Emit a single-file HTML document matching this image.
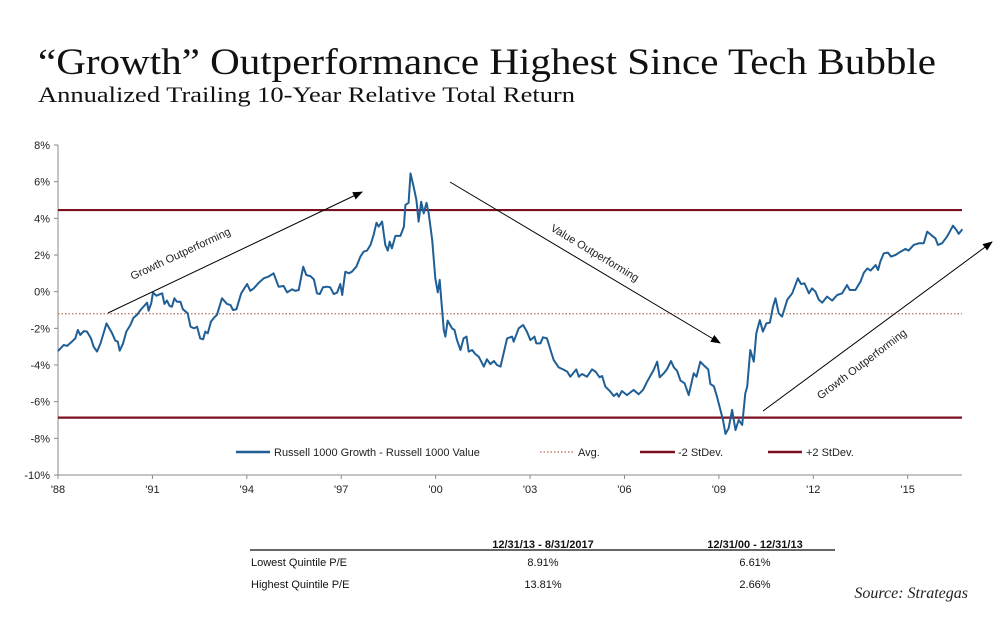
<!DOCTYPE html>
<html><head><meta charset="utf-8">
<style>
html,body{margin:0;padding:0;background:#fff;}
svg{display:block;font-family:"Liberation Sans",sans-serif;}
</style></head>
<body>
<svg id="chart" width="1008" height="630" viewBox="0 0 1008 630" xmlns="http://www.w3.org/2000/svg">
<text x="38" y="74" font-family="Liberation Serif,serif" font-size="37" fill="#111" textLength="898" lengthAdjust="spacingAndGlyphs">“Growth” Outperformance Highest Since Tech Bubble</text>
<text x="38" y="102" font-family="Liberation Serif,serif" font-size="22" fill="#111" textLength="537" lengthAdjust="spacingAndGlyphs">Annualized Trailing 10-Year Relative Total Return</text>
<g id="plot"></g>
<g id="legend">
  <line x1="236" y1="452" x2="270" y2="452" stroke="#1f5f96" stroke-width="2.5"/>
  <text x="274" y="456" font-size="11" fill="#222">Russell 1000 Growth - Russell 1000 Value</text>
  <line x1="540" y1="452" x2="573" y2="452" stroke="#c0806a" stroke-width="1.5" stroke-dasharray="1.5,2"/>
  <text x="578" y="456" font-size="11" fill="#222">Avg.</text>
  <line x1="640" y1="452" x2="675" y2="452" stroke="#7a1020" stroke-width="2.5"/>
  <text x="678" y="456" font-size="11" fill="#222">-2 StDev.</text>
  <line x1="768" y1="452" x2="802" y2="452" stroke="#7a1020" stroke-width="2.5"/>
  <text x="806" y="456" font-size="11" fill="#222">+2 StDev.</text>
</g>
<g id="table" font-size="11" fill="#111">
  <text x="543" y="548" text-anchor="middle" font-weight="bold">12/31/13 - 8/31/2017</text>
  <text x="755" y="548" text-anchor="middle" font-weight="bold">12/31/00 - 12/31/13</text>
  <line x1="250" y1="550" x2="835" y2="550" stroke="#333" stroke-width="1.5"/>
  <text x="251" y="566">Lowest  Quintile P/E</text>
  <text x="543" y="566" text-anchor="middle">8.91%</text>
  <text x="755" y="566" text-anchor="middle">6.61%</text>
  <text x="251" y="588">Highest  Quintile P/E</text>
  <text x="543" y="588" text-anchor="middle">13.81%</text>
  <text x="755" y="588" text-anchor="middle">2.66%</text>
</g>
<text x="968" y="598" text-anchor="end" font-family="Liberation Serif,serif" font-style="italic" font-size="16" fill="#222">Source: Strategas</text>
</svg>
<script>
const years = [1988.00,1988.18,1988.29,1988.44,1988.55,1988.63,1988.71,1988.82,1988.92,1989.05,1989.13,1989.24,1989.35,1989.54,1989.72,1989.82,1989.90,1989.96,1990.07,1990.17,1990.30,1990.40,1990.51,1990.62,1990.83,1990.88,1990.96,1991.02,1991.13,1991.25,1991.31,1991.38,1991.46,1991.55,1991.62,1991.70,1991.78,1991.89,1991.97,1992.12,1992.21,1992.26,1992.33,1992.42,1992.52,1992.61,1992.68,1992.76,1992.86,1992.97,1993.05,1993.21,1993.37,1993.48,1993.56,1993.67,1993.82,1994.01,1994.11,1994.22,1994.38,1994.54,1994.69,1994.85,1995.01,1995.17,1995.28,1995.44,1995.54,1995.65,1995.79,1995.89,1996.02,1996.13,1996.23,1996.32,1996.42,1996.55,1996.65,1996.76,1996.87,1996.97,1997.03,1997.13,1997.24,1997.34,1997.48,1997.61,1997.71,1997.82,1997.93,1998.03,1998.12,1998.19,1998.30,1998.40,1998.48,1998.54,1998.61,1998.72,1998.88,1998.99,1999.04,1999.14,1999.20,1999.30,1999.39,1999.46,1999.54,1999.62,1999.71,1999.78,1999.89,1999.99,2000.07,2000.13,2000.17,2000.26,2000.31,2000.38,2000.52,2000.60,2000.68,2000.79,2000.89,2000.98,2001.05,2001.16,2001.26,2001.37,2001.53,2001.63,2001.74,2001.85,2001.95,2002.06,2002.27,2002.43,2002.48,2002.64,2002.78,2002.90,2003.01,2003.14,2003.20,2003.33,2003.41,2003.54,2003.65,2003.75,2003.91,2004.05,2004.18,2004.28,2004.47,2004.55,2004.65,2004.81,2004.97,2005.08,2005.21,2005.29,2005.39,2005.55,2005.66,2005.76,2005.82,2005.92,2006.08,2006.29,2006.45,2006.59,2006.72,2006.93,2007.04,2007.12,2007.25,2007.35,2007.48,2007.57,2007.67,2007.78,2007.91,2008.04,2008.20,2008.29,2008.41,2008.54,2008.66,2008.73,2008.84,2008.94,2009.05,2009.13,2009.21,2009.31,2009.42,2009.53,2009.63,2009.74,2009.84,2009.90,2010.00,2010.11,2010.19,2010.30,2010.40,2010.51,2010.62,2010.72,2010.80,2010.90,2011.01,2011.17,2011.33,2011.51,2011.61,2011.72,2011.86,2011.96,2012.07,2012.17,2012.28,2012.44,2012.60,2012.76,2012.92,2013.07,2013.16,2013.34,2013.50,2013.61,2013.72,2013.82,2013.98,2014.06,2014.13,2014.24,2014.37,2014.47,2014.61,2014.77,2014.93,2015.03,2015.19,2015.35,2015.51,2015.62,2015.78,2015.88,2015.96,2016.09,2016.25,2016.44,2016.55,2016.62,2016.74];
const values = [-3.24,-2.91,-2.96,-2.73,-2.55,-2.09,-2.36,-2.15,-2.18,-2.55,-3.00,-3.27,-2.82,-1.73,-2.27,-2.67,-2.73,-3.22,-2.82,-2.18,-1.82,-1.42,-1.27,-1.00,-0.60,-1.04,-0.64,-0.05,-0.22,-0.13,-0.09,-0.67,-0.49,-0.78,-0.82,-0.36,-0.55,-0.55,-0.96,-1.18,-1.91,-1.95,-2.00,-1.91,-2.55,-2.60,-2.18,-2.27,-1.64,-1.40,-1.27,-0.36,-0.67,-0.73,-1.00,-0.96,-0.09,0.42,0.05,0.18,0.49,0.73,0.82,1.00,0.27,0.31,-0.04,0.13,0.04,0.09,1.36,0.91,0.85,0.67,-0.09,-0.13,0.24,0.27,0.24,-0.13,-0.05,0.42,-0.18,1.09,1.00,1.09,1.36,1.91,2.18,2.24,2.55,3.09,3.76,3.55,3.82,2.55,2.24,2.73,2.36,3.04,3.04,3.55,4.73,4.85,6.45,5.73,5.00,3.82,4.91,4.27,4.85,4.27,2.82,0.73,-0.04,0.64,-0.27,-2.09,-2.45,-1.58,-2.00,-2.09,-2.64,-3.18,-2.55,-2.45,-3.27,-3.18,-3.40,-3.55,-4.09,-3.69,-3.95,-3.78,-4.00,-4.09,-2.55,-2.45,-2.73,-2.00,-1.82,-2.18,-2.64,-2.45,-2.82,-2.82,-2.49,-2.55,-3.18,-3.73,-4.13,-4.24,-4.36,-4.64,-4.24,-4.64,-4.49,-4.64,-4.24,-4.36,-4.67,-4.60,-5.18,-5.45,-5.69,-5.55,-5.73,-5.42,-5.64,-5.36,-5.60,-5.36,-4.91,-4.27,-3.82,-4.67,-4.45,-4.24,-3.78,-4.13,-4.31,-4.85,-5.00,-5.64,-4.45,-4.64,-3.82,-4.05,-4.24,-5.04,-5.15,-5.73,-6.45,-7.00,-7.76,-7.45,-6.45,-7.55,-7.00,-7.27,-5.55,-5.18,-3.18,-3.82,-2.27,-1.55,-2.18,-1.73,-1.69,-0.82,-0.36,-1.18,-1.36,-0.45,-0.09,0.73,0.42,0.45,-0.09,0.18,0.00,-0.42,-0.60,-0.27,-0.49,-0.18,-0.09,0.36,0.09,0.09,0.55,1.04,1.27,1.15,1.45,1.18,1.64,2.09,2.13,1.91,2.00,2.18,2.33,2.24,2.55,2.64,2.64,3.27,3.04,2.91,2.55,2.64,3.00,3.60,3.36,3.15,3.40];
const avgValue = -1.2;
const minus2sd = -6.87;
const plus2sd = 4.45;
const yTicks = [8,6,4,2,0,-2,-4,-6,-8,-10];
const xTickYears = [1988,1991,1994,1997,2000,2003,2006,2009,2012,2015];
const xTickLabels = ["'88","'91","'94","'97","'00","'03","'06","'09","'12","'15"];

const NS = "http://www.w3.org/2000/svg";
const L = 58, R = 962, T = 145, B = 475;
const xScale = y => L + (y - 1988) * 31.47;
const yScale = v => T + (8 - v) * (B - T) / 18;
const plot = document.getElementById('plot');
function mk(tag, attrs, parent) {
  const e = document.createElementNS(NS, tag);
  for (const k in attrs) e.setAttribute(k, attrs[k]);
  (parent || plot).appendChild(e);
  return e;
}
// axes
let e = mk('line', {x1:L, y1:T, x2:L, y2:B, stroke:'#888', 'stroke-width':1});


e = mk('line', {x1:L, y1:B, x2:R, y2:B, stroke:'#888', 'stroke-width':1});


yTicks.forEach(v => {
  const y = yScale(v);
  mk('line', {x1:L-4, y1:y, x2:L, y2:y, stroke:'#888'});
  const t = mk('text', {x:L-8, y:y+4, 'text-anchor':'end', 'font-size':11, fill:'#222'});
  t.textContent = v + '%';
  
  
});
xTickYears.forEach((yr, i) => {
  const x = xScale(yr);
  mk('line', {x1:x, y1:B, x2:x, y2:B+4, stroke:'#888'});
  const t = mk('text', {x:x, y:B+18, 'text-anchor':'middle', 'font-size':11, fill:'#222'});
  t.textContent = xTickLabels[i];
  
  
});
// reference lines
e = mk('line', {x1:L, y1:yScale(plus2sd), x2:R, y2:yScale(plus2sd), stroke:'#7a1020', 'stroke-width':2.2});


e = mk('line', {x1:L, y1:yScale(minus2sd), x2:R, y2:yScale(minus2sd), stroke:'#7a1020', 'stroke-width':2.2});


e = mk('line', {x1:L, y1:yScale(avgValue), x2:R, y2:yScale(avgValue), stroke:'#c0806a', 'stroke-width':1.3, 'stroke-dasharray':'1.5,2'});


// series
const d = years.map((yr, i) => (i ? 'L' : 'M') + xScale(yr).toFixed(1) + ',' + yScale(values[i]).toFixed(1)).join('');
e = mk('path', {d:d, fill:'none', stroke:'#1f5f96', 'stroke-width':2, 'stroke-linejoin':'round'});


// annotations
const defs = mk('defs', {});
const m = mk('marker', {id:'ah', markerWidth:10, markerHeight:8, refX:9, refY:4, orient:'auto', markerUnits:'userSpaceOnUse'}, defs);
mk('path', {d:'M0,0L10,4L0,8Z', fill:'#000'}, m);
function arrow(x1,y1,x2,y2,name){
  const a = mk('line', {x1:x1,y1:y1,x2:x2,y2:y2,stroke:'#000','stroke-width':1,'marker-end':'url(#ah)'});
  
  
}
function label(x,y,rot,txt,name){
  const t = mk('text', {x:x,y:y,'text-anchor':'middle','font-size':11,fill:'#222',transform:'rotate('+rot+' '+x+' '+y+')'});
  t.textContent = txt;
  
  
}
arrow(108,313,362,192,'growth-arrow-1');
arrow(450,182,720,343,'value-arrow');
arrow(763,411,992,242,'growth-arrow-2');
label(182,257,-25,'Growth  Outperforming','growth-label-1');
label(593,256,31,'Value Outperforming','value-label');
label(864,367,-37,'Growth  Outperforming','growth-label-2');
</script>
</body></html>
